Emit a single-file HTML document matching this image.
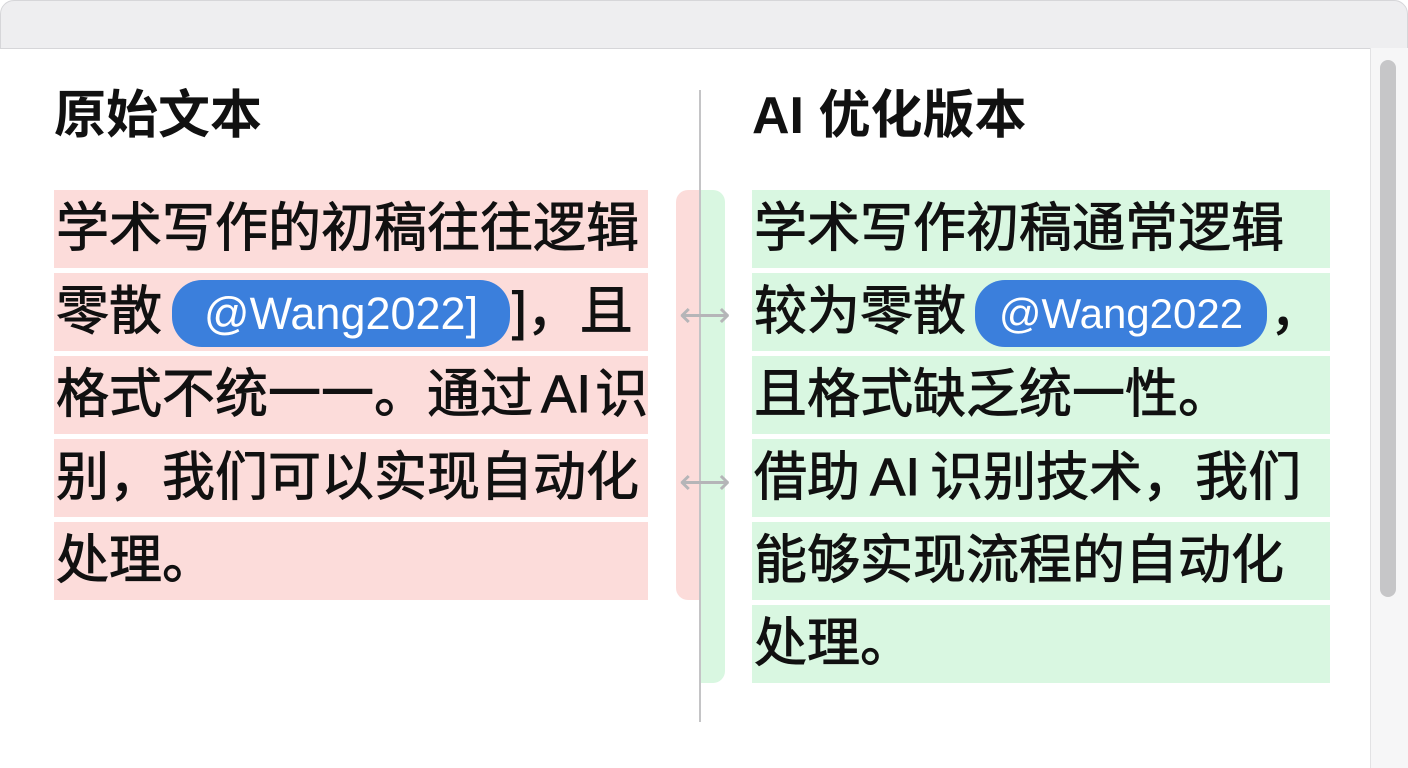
<!DOCTYPE html>
<html><head><meta charset="utf-8"><style>
body{margin:0;width:1408px;height:768px;background:#fff;position:relative;overflow:hidden;font-family:"Liberation Sans","Noto Sans CJK SC",sans-serif;}
.a{position:absolute}
.top{left:0;top:0;width:1406px;height:47px;background:#eeeef0;border:1px solid #d6d6d9;border-radius:14px 14px 0 0;}
.r{background:#fcdcda}.g{background:#d9f7e1}
.t{position:absolute;font-size:53px;line-height:78px;font-weight:normal;-webkit-text-stroke:0.9px #111;color:#111;white-space:nowrap;}
.h{position:absolute;font-size:52px;font-weight:bold;color:#111;white-space:nowrap;line-height:56px}
.pill{position:absolute;background:#3b7fdc;border-radius:30px;color:#fff;line-height:67px;text-align:center;}
.arr{position:absolute;color:#b5b5b8;font-size:36px;line-height:36px}
</style></head><body>
<div class="a top"></div>
<div class="a" style="left:1370px;top:48px;width:38px;height:720px;background:#f6f6f7;border-left:1px solid #e2e2e4"></div>
<div class="a" style="left:1380px;top:60px;width:16px;height:537px;background:#c6c6c8;border-radius:8px"></div>
<div class="h" style="left:54px;top:88px">原始文本</div>
<div class="h" style="left:752px;top:88px">AI 优化版本</div>

<div class="a r" style="left:54px;top:190px;width:594px;height:78px"></div>
<div class="a r" style="left:54px;top:273px;width:594px;height:78px"></div>
<div class="a r" style="left:54px;top:356px;width:594px;height:78px"></div>
<div class="a r" style="left:54px;top:439px;width:594px;height:78px"></div>
<div class="a r" style="left:54px;top:522px;width:594px;height:78px"></div>

<div class="a g" style="left:752px;top:190px;width:578px;height:78px"></div>
<div class="a g" style="left:752px;top:273px;width:578px;height:78px"></div>
<div class="a g" style="left:752px;top:356px;width:578px;height:78px"></div>
<div class="a g" style="left:752px;top:439px;width:578px;height:78px"></div>
<div class="a g" style="left:752px;top:522px;width:578px;height:78px"></div>
<div class="a g" style="left:752px;top:605px;width:578px;height:78px"></div>

<div class="a r" style="left:676px;top:190px;width:24px;height:410px;border-radius:12px 0 0 12px"></div>
<div class="a g" style="left:700px;top:190px;width:25px;height:493px;border-radius:0 12px 12px 0"></div>
<div class="a" style="left:699px;top:90px;width:2px;height:632px;background:#c4c4c6"></div>
<div class="arr" style="left:679px;top:297px">⟷</div>
<div class="arr" style="left:679px;top:464px">⟷</div>

<div class="t" style="left:56px;top:190px">学术写作的初稿往往逻辑</div>
<div class="t" style="left:56px;top:273px">零散</div>
<div class="pill" style="left:172px;top:280px;width:338px;height:67px;font-size:45px">@Wang2022]</div>
<div class="t" style="left:512px;top:273px">]，且</div>
<div class="t" style="left:56px;top:356px">格式不统一一。通过<span style="margin-left:8px">AI</span><span style="margin-left:4px">识</span></div>
<div class="t" style="left:56px;top:439px">别，我们可以实现自动化</div>
<div class="t" style="left:56px;top:522px">处理。</div>

<div class="t" style="left:754px;top:190px">学术写作初稿通常逻辑</div>
<div class="t" style="left:754px;top:273px">较为零散</div>
<div class="pill" style="left:975px;top:280px;width:292px;height:67px;font-size:42px">@Wang2022</div>
<div class="t" style="left:1270px;top:273px">，</div>
<div class="t" style="left:754px;top:356px">且格式缺乏统一性。</div>
<div class="t" style="left:754px;top:439px">借助<span style="margin-left:10px">AI</span><span style="margin-left:10px">识别技术，我们</span></div>
<div class="t" style="left:754px;top:522px">能够实现流程的自动化</div>
<div class="t" style="left:754px;top:605px">处理。</div>
</body></html>
